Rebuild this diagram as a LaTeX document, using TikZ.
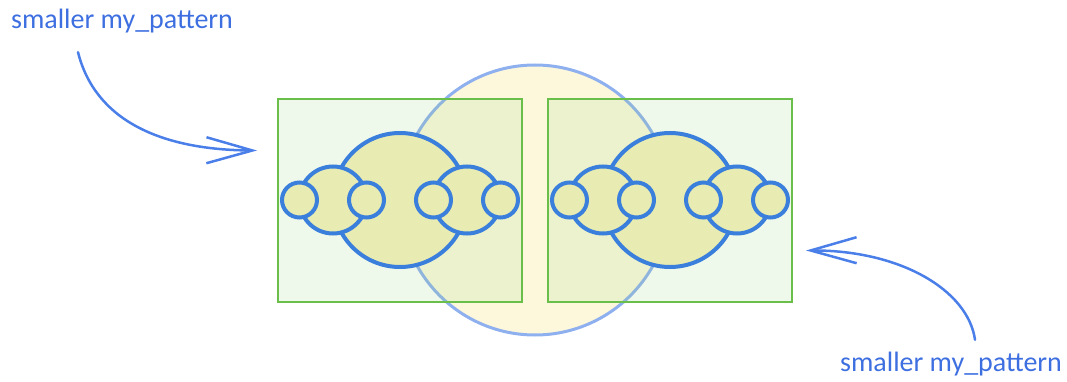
\documentclass[tikz,border=0pt]{standalone}
\usepackage{fontspec}
\setmainfont{Carlito}
\usepackage{xcolor}
\usetikzlibrary{arrows.meta,calc}
\definecolor{inkblue}{HTML}{3A7FDC}
\definecolor{noteblue}{HTML}{3D6FE0}
\definecolor{arrowblue}{HTML}{4A7EE8}
\definecolor{ringblue}{HTML}{8FB0EF}
\definecolor{ringfill}{HTML}{FDF8DC}
\definecolor{boxgreen}{HTML}{6ABF4B}
\definecolor{boxfill}{HTML}{8FD47A}
\definecolor{patfill}{HTML}{E9ECB2}

\begin{document}
\begin{tikzpicture}[
    x=1pt,y=-1pt,
    ring node/.style={draw=ringblue,line width=3pt,fill=ringfill,circle,
      minimum size=270pt,inner sep=0pt},
    frame box/.style={draw=boxgreen,line width=2pt,fill=boxfill,fill opacity=0.15,
      draw opacity=1,minimum width=244pt,minimum height=203pt,inner sep=0pt},
    pat circle/.style={draw=inkblue,line width=4pt,fill=patfill},
    note/.style={text=noteblue,font=\fontsize{28}{28}\selectfont,inner sep=2pt},
    note arrow/.style={-{Straight Barb[length=46pt,width=26pt]},arrowblue,
      line width=2.5pt,line cap=round}
  ]
    \useasboundingbox (0,0) rectangle (1067,382);
    \node[ring node] (ring) at (535,200) {};
    \node[frame box] (boxL) at (400,200.5) {};
    \node[frame box] (boxR) at (670,200.5) {};
    \foreach \cx in {400,670} {
      \draw[pat circle] (\cx,200) circle (67);
      \foreach \mx in {-67,67} {
        \draw[pat circle] (\cx+\mx,200) circle (33.5);
      }
      \foreach \sx in {-100.5,-33.5,33.5,100.5} {
        \draw[pat circle] (\cx+\sx,200) circle (17.5);
      }
    }
    \node[note] (lblTL) at (122,21) {smaller my\_pattern};
    \node[note] (lblBR) at (951,364) {smaller my\_pattern};
    \coordinate (tipL) at ($(boxL.west)+(-20,-50)$);
    \coordinate (tipR) at ($(boxR.east)+(13,50)$);
    \draw[note arrow] ($(lblTL.south)+(-44,17)$) .. controls (95,120) and (160,150) .. (tipL);
    \draw[note arrow] ($(lblBR.north)+(24,-10)$) .. controls (968,290) and (900,250) .. (tipR);
\end{tikzpicture}
\end{document}
